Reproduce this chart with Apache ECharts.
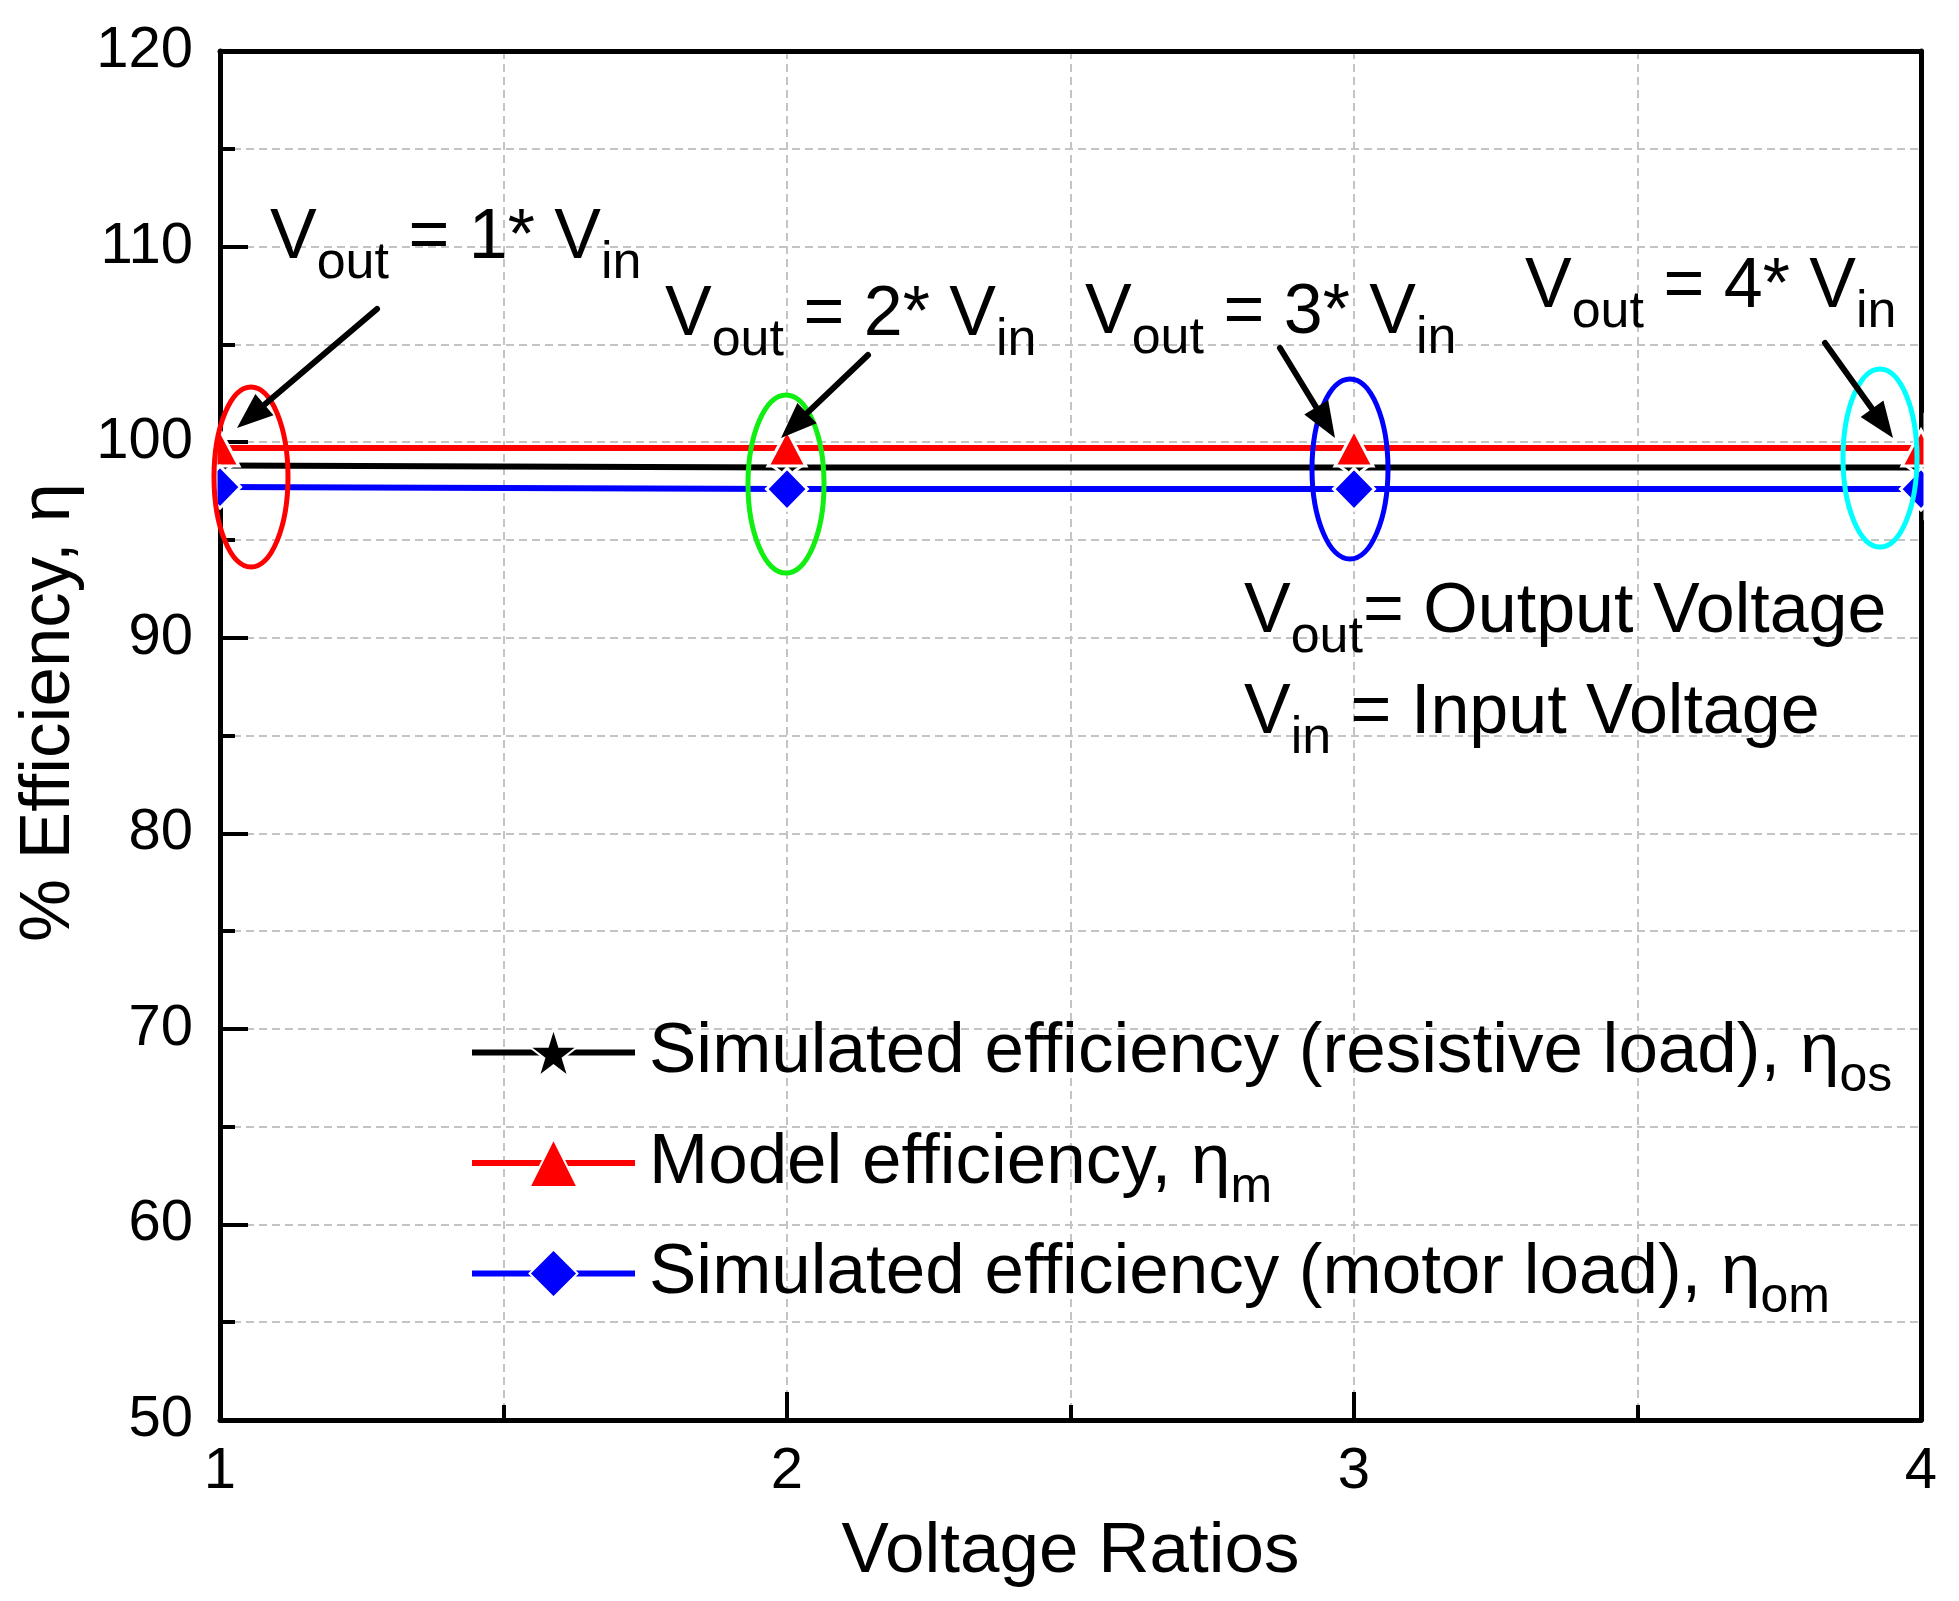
<!DOCTYPE html>
<html>
<head>
<meta charset="utf-8">
<script src="https://cdn.jsdelivr.net/npm/echarts@6/dist/echarts.min.js"></script>
<style>
html,body{margin:0;padding:0;background:#fff;}
#chart{width:1959px;height:1601px;}
</style>
</head>
<body>
<div id="chart"></div>
<script>
// ---------------- data ----------------
const xValues = [1, 2, 3, 4];
const xTickLabels = ['1', '2', '3', '4'];
const yTickLabels = ['50', '60', '70', '80', '90', '100', '110', '120'];
const resistiveEff = [98.8, 98.7, 98.7, 98.7];
const modelEff = [99.7, 99.7, 99.7, 99.7];
const motorEff = [97.7, 97.6, 97.6, 97.6];
const seriesNames = [
  'Simulated efficiency (resistive load), ηos',
  'Model efficiency, ηm',
  'Simulated efficiency (motor load), ηom'
];
const legendMain = ['Simulated efficiency (resistive load), η', 'Model efficiency, η', 'Simulated efficiency (motor load), η'];
const legendSub = ['os', 'm', 'om'];

// ---------------- styles ----------------
const FONT = "'Liberation Sans', Arial, Helvetica, sans-serif";
const STAR = 'path://M50,0 L61.2,34.5 L97.6,34.5 L68.2,55.9 L79.4,90.5 L50,69.1 L20.6,90.5 L31.8,55.9 L2.4,34.5 L38.8,34.5 Z';
const gridDash = { type: [8, 5], color: '#c4c4c4', width: 2 };

function pairs(vals) { return xValues.map((x, i) => [x, vals[i]]); }

const chart = echarts.init(document.getElementById('chart'), null, { renderer: 'canvas' });

const axisCommon = {
  axisLine: { show: true, onZero: false, lineStyle: { color: '#000', width: 5 } },
  axisTick: { show: true, inside: true, length: 28, lineStyle: { color: '#000', width: 4 } },
  minorTick: { show: true, splitNumber: 2, length: 15, lineStyle: { color: '#000', width: 4 } },
  splitLine: { show: true, showMinLine: false, showMaxLine: false, lineStyle: gridDash },
  minorSplitLine: { show: true, lineStyle: gridDash },
  nameTextStyle: { fontSize: 71, color: '#000', fontFamily: FONT }
};
const frameAxis = {
  axisLine: { show: true, onZero: false, lineStyle: { color: '#000', width: 5 } },
  axisTick: { show: false }, minorTick: { show: false },
  axisLabel: { show: false }, splitLine: { show: false }, minorSplitLine: { show: false }
};

const legendRich = {
  m: { fontSize: 71, fontFamily: FONT, color: '#000', lineHeight: 100, verticalAlign: 'middle' },
  s: { fontSize: 50, fontFamily: FONT, color: '#000', verticalAlign: 'top', padding: [50, 0, 0, 0] }
};

const option = {
  animation: false,
  backgroundColor: '#fff',
  grid: { left: 220, right: 38, top: 51, bottom: 181 },
  xAxis: [
    Object.assign({}, axisCommon, {
      type: 'value', min: 1, max: 4, interval: 1, position: 'bottom',
      name: 'Voltage Ratios', nameLocation: 'middle', nameGap: 97,
      axisLabel: {
        fontSize: 58, color: '#000', fontFamily: FONT, margin: 23,
        formatter: v => xTickLabels[xValues.indexOf(v)] || ''
      }
    }),
    Object.assign({}, frameAxis, { type: 'value', min: 1, max: 4, interval: 1, position: 'top' })
  ],
  yAxis: [
    Object.assign({}, axisCommon, {
      type: 'value', min: 50, max: 120, interval: 10, position: 'left',
      name: '% Efficiency, η', nameLocation: 'middle', nameGap: 130, nameRotate: 90,
      nameTextStyle: { fontSize: 71, color: '#000', fontFamily: FONT, padding: [0, 0, 0, 46] },
      axisLabel: {
        fontSize: 58, color: '#000', fontFamily: FONT, margin: 27,
        formatter: v => yTickLabels[Math.round((v - 50) / 10)] || ''
      }
    }),
    Object.assign({}, frameAxis, { type: 'value', min: 50, max: 120, interval: 10, position: 'right' })
  ],
  legend: {
    orient: 'vertical', left: 469, top: 1017, padding: 0,
    itemWidth: 163, itemHeight: 60, itemGap: 25,
    selectedMode: false,
    data: seriesNames,
    lineStyle: { width: 6 },
    formatter: name => {
      const i = seriesNames.indexOf(name);
      return '{m|' + legendMain[i] + '}{s|' + legendSub[i] + '}';
    },
    textStyle: { padding: [0, 0, 0, 9], rich: legendRich }
  },
  series: [
    {
      type: 'line', name: seriesNames[0], data: pairs(resistiveEff), clip: false,
      symbol: STAR, symbolSize: [36, 35],
      lineStyle: { color: '#000', width: 6 },
      itemStyle: { color: '#000', borderColor: '#fff', borderWidth: 3 },
      emphasis: { disabled: true }
    },
    {
      type: 'line', name: seriesNames[1], data: pairs(modelEff), clip: false,
      symbol: 'triangle', symbolSize: [38, 36],
      lineStyle: { color: '#ff0000', width: 6 },
      itemStyle: { color: '#ff0000', borderColor: '#fff', borderWidth: 3 },
      emphasis: { disabled: true }
    },
    {
      type: 'line', name: seriesNames[2], data: pairs(motorEff), clip: false,
      symbol: 'diamond', symbolSize: [41, 42],
      lineStyle: { color: '#0000ff', width: 6 },
      itemStyle: { color: '#0000ff', borderColor: '#fff', borderWidth: 3 },
      emphasis: { disabled: true }
    }
  ]
};
chart.setOption(option);

// ---------------- annotations ----------------
const annRich = {
  m: { fontSize: 70, fontFamily: FONT, color: '#000', lineHeight: 104, verticalAlign: 'middle' },
  s: { fontSize: 52, fontFamily: FONT, color: '#000', verticalAlign: 'top', padding: [51, 0, 0, 0] }
};
function annText(x, baseline, txt) {
  return {
    type: 'text', x: x, y: baseline - 24.3, z: 30,
    style: { text: txt, rich: annRich, align: 'left', verticalAlign: 'middle', textAlign: 'left', textVerticalAlign: 'middle' }
  };
}
function arrow(sx, sy, tx, ty) {
  const L = 36, W = 14;
  const dx = tx - sx, dy = ty - sy, len = Math.hypot(dx, dy);
  const ux = dx / len, uy = dy / len;
  const bx = tx - ux * L, by = ty - uy * L;
  const px = -uy, py = ux;
  return [
    { type: 'line', z: 30, shape: { x1: sx, y1: sy, x2: bx + ux * 4, y2: by + uy * 4 },
      style: { stroke: '#000', lineWidth: 6, lineCap: 'round' } },
    { type: 'polygon', z: 30, shape: { points: [[tx, ty], [bx + px * W, by + py * W], [bx - px * W, by - py * W]] },
      style: { fill: '#000' } }
  ];
}
function ellipse(cx, cy, rx, ry, color) {
  return { type: 'ellipse', z: 25, shape: { cx: cx, cy: cy, rx: rx, ry: ry },
    style: { fill: null, stroke: color, lineWidth: 5 } };
}

const p1 = chart.convertToPixel({ gridIndex: 0 }, [1, 101.5]);
const p2 = chart.convertToPixel({ gridIndex: 0 }, [4, 96]);
const maskTop = p1[1], maskH = p2[1] - p1[1];

const graphics = [
  // clip the half of the edge markers that falls outside the frame
  { type: 'rect', z: 10, shape: { x: p1[0] - 24, y: maskTop, width: 21.5, height: maskH }, style: { fill: '#fff' } },
  { type: 'rect', z: 10, shape: { x: p2[0] + 2.5, y: maskTop, width: 30, height: maskH }, style: { fill: '#fff' } },

  ellipse(251, 477, 37, 90, '#ff0000'),
  ellipse(786, 484, 38, 89, '#11ee11'),
  ellipse(1350, 469, 38, 90, '#0000ff'),
  ellipse(1880, 458, 37, 89, '#00ffff'),

  ...arrow(377, 309, 237, 428),
  ...arrow(868, 355, 781, 438),
  ...arrow(1280, 348, 1335, 438),
  ...arrow(1825, 343, 1893, 438),

  annText(270, 263, '{m|V}{s|out}{m| = 1* V}{s|in}'),
  annText(665, 340, '{m|V}{s|out}{m| = 2* V}{s|in}'),
  annText(1085, 338, '{m|V}{s|out}{m| = 3* V}{s|in}'),
  annText(1525, 312, '{m|V}{s|out}{m| = 4* V}{s|in}'),
  annText(1244, 637, '{m|V}{s|out}{m|= Output Voltage}'),
  annText(1244, 738, '{m|V}{s|in}{m| = Input Voltage}')
];
chart.setOption({ graphic: graphics });
</script>
</body>
</html>
